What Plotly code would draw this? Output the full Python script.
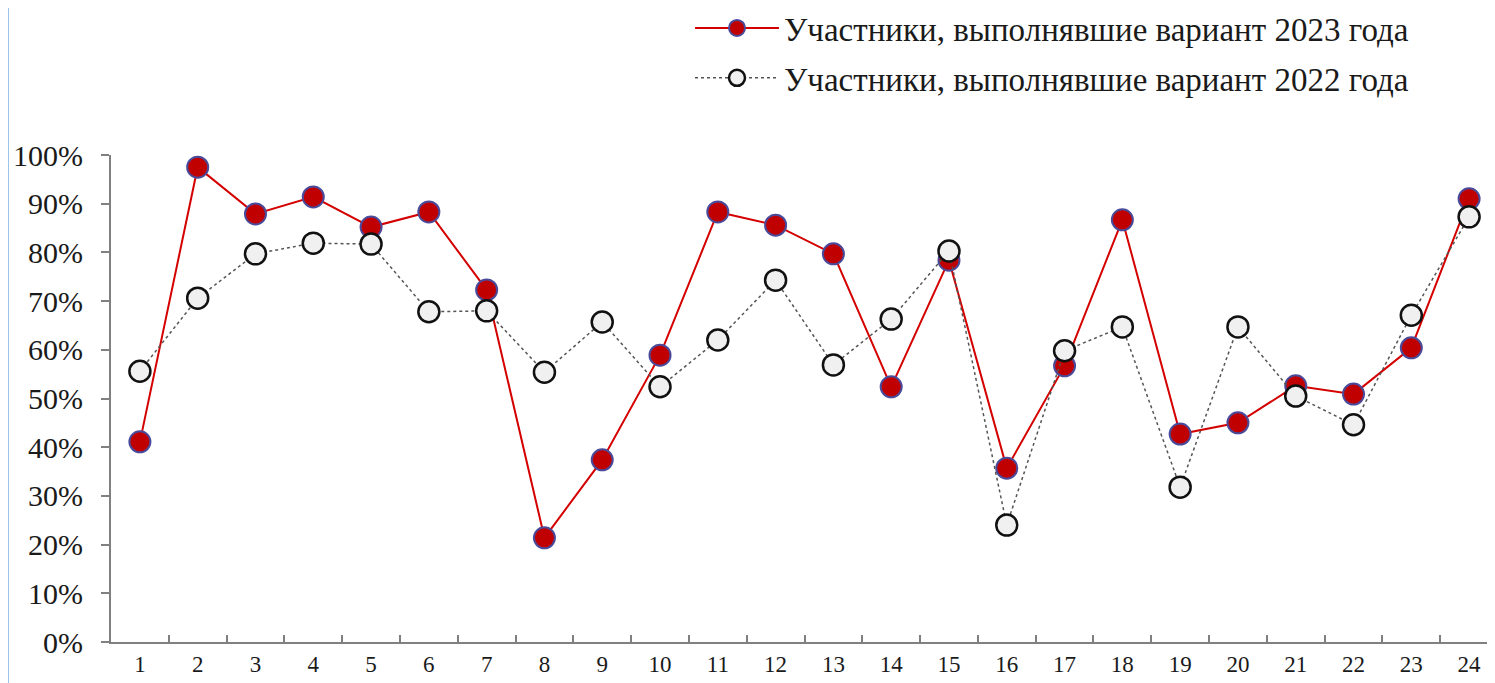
import plotly.graph_objects as go

categories = [str(i) for i in range(1, 25)]
y_tick_vals = [0, 10, 20, 30, 40, 50, 60, 70, 80, 90, 100]
y_tick_text = [f"{v}%" for v in y_tick_vals]

name_2023 = "Участники, выполнявшие вариант 2023 года"
name_2022 = "Участники, выполнявшие вариант 2022 года"

values_2023 = [41.1, 97.5, 87.9, 91.4, 85.2, 88.3, 72.3, 21.4, 37.4, 58.9, 88.3, 85.6,
               79.7, 52.4, 78.4, 35.7, 56.7, 86.7, 42.7, 45.0, 52.6, 50.9, 60.4, 91.0]
values_2022 = [55.6, 70.6, 79.7, 81.9, 81.7, 67.8, 68.0, 55.4, 65.7, 52.4, 62.0, 74.3,
               56.9, 66.3, 80.3, 24.0, 59.8, 64.7, 31.8, 64.7, 50.5, 44.6, 67.1, 87.3]

FONT = "Liberation Serif"
W, H = 1495, 683
ML, MR, MT, MB = 103, 5, 147, 49
PW, PH = W - ML - MR, H - MT - MB

fig = go.Figure()
fig.add_trace(go.Scatter(
    x=categories, y=values_2023, name=name_2023, mode="lines+markers",
    line=dict(color="#d40000", width=2),
    marker=dict(size=21, color="#c00000", line=dict(color="#4a4a9a", width=2)),
    cliponaxis=False, legendgroup="a",
))
fig.add_trace(go.Scatter(
    x=categories, y=values_2022, name=name_2022, mode="lines+markers",
    line=dict(color="#555555", width=1.5, dash="dot"),
    marker=dict(size=21, color="#f0f0f0", line=dict(color="#111111", width=2.5)),
    cliponaxis=False, legendgroup="b",
))

fig.update_layout(
    width=W, height=H,
    margin=dict(l=ML, r=MR, t=MT, b=MB, autoexpand=False),
    paper_bgcolor="white", plot_bgcolor="white",
    font=dict(family=FONT, color="#1a1a1a"),
    showlegend=True,
    legend=dict(
        x=(682 - 103) / PW, y=1 + (MT + 8) / PH, xanchor="left", yanchor="top",
        font=dict(size=33, family=FONT, color="#1a1a1a"),
        tracegroupgap=4, itemwidth=84, bgcolor="rgba(0,0,0,0)",
    ),
    xaxis=dict(
        type="category", range=[-0.5, 23.5],
        showline=True, linecolor="#808080", linewidth=2,
        ticks="inside", ticklen=7, tickcolor="#808080", tickwidth=2,
        tickson="boundaries", showgrid=False, zeroline=False,
        tickfont=dict(size=23, family=FONT, color="#1a1a1a"),
    ),
    yaxis=dict(
        range=[0, 100], tickvals=y_tick_vals, ticktext=y_tick_text,
        showline=True, linecolor="#808080", linewidth=2,
        ticks="outside", ticklen=8, tickcolor="#808080", tickwidth=2,
        showgrid=False, zeroline=False, ticklabelstandoff=12,
        tickfont=dict(size=30, family=FONT, color="#1a1a1a"),
    ),
    shapes=[dict(
        type="line", xref="paper", yref="paper",
        x0=-ML / PW, x1=-ML / PW, y0=-MB / PH, y1=(H - MB) / PH,
        line=dict(color="#9dc3e6", width=2),
    )],
)

fig.write_html("out.html")
